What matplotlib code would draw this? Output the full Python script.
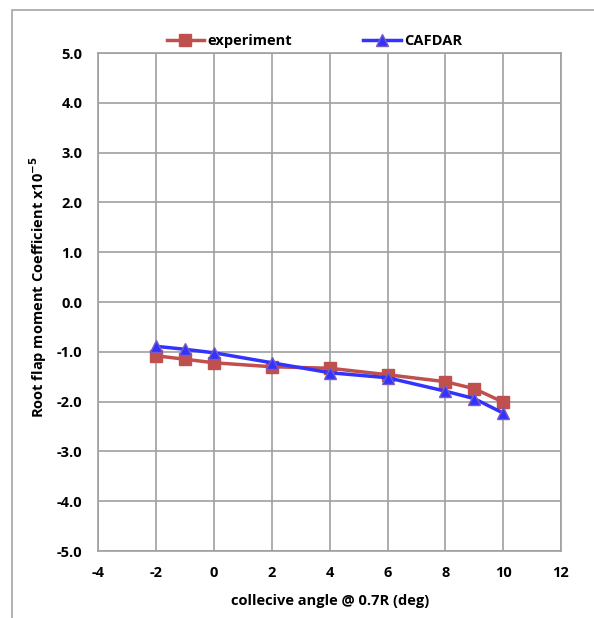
import matplotlib
matplotlib.use("Agg")
import matplotlib.pyplot as plt
from matplotlib.patches import Rectangle

angle = [-2, -1, 0, 2, 4, 6, 8, 9, 10]
experiment = [-1.08, -1.15, -1.22, -1.30, -1.33, -1.46, -1.60, -1.74, -2.01]
cafdar = [-0.89, -0.95, -1.02, -1.22, -1.42, -1.52, -1.79, -1.94, -2.23]

xticks = [-4, -2, 0, 2, 4, 6, 8, 10, 12]
yticks = [-5, -4, -3, -2, -1, 0, 1, 2, 3, 4, 5]

plt.rcParams['font.family'] = ['Open Sans', 'DejaVu Sans']
plt.rcParams['font.weight'] = 'bold'
plt.rcParams['axes.unicode_minus'] = False
plt.rcParams['mathtext.default'] = 'bf'

fig = plt.figure(figsize=(5.94, 6.18), dpi=100)
ax = fig.add_axes([0.1658, 0.1084, 0.7786, 0.8058])

# outer chart frame
fig.patches.append(Rectangle((12 / 594, -0.05), 1.2, 1 - 10 / 618 + 0.05,
                             transform=fig.transFigure, fill=False,
                             edgecolor='#a6a6a6', linewidth=1.2))

ax.plot(angle, experiment, color='#C0504D', linewidth=2.5, marker='s',
        markersize=8, markerfacecolor='#C0504D', markeredgecolor='#C0504D',
        label='experiment', zorder=3)
ax.plot(angle, cafdar, color='#3333FF', linewidth=2.5, marker='^',
        markersize=8, markerfacecolor='#3333FF', markeredgecolor='#7a5cc0',
        label='CAFDAR', zorder=4)

ax.set_xlim(-4, 12)
ax.set_ylim(-5, 5)
ax.set_xticks(xticks)
ax.set_yticks(yticks)
ax.set_yticklabels([f"{v:.1f}" for v in yticks])
ax.grid(True, color='#a0a0a0', linewidth=1.2)
ax.tick_params(axis='x', length=0, labelsize=10.5, pad=11)
ax.tick_params(axis='y', length=0, labelsize=10.5, pad=11.5)
for s in ax.spines.values():
    s.set_color('#a0a0a0')
    s.set_linewidth(1.2)

ax.set_xlabel('collecive angle @ 0.7R (deg)', fontsize=10.5, fontweight='bold', labelpad=10)
ax.set_ylabel('Root flap moment Coefficient x10$^{-5}$', fontsize=10.5,
              fontweight='bold', labelpad=4)
ax.yaxis.set_label_coords(-0.107, 0.53)

ax.legend(loc='lower center', bbox_to_anchor=(0.467, 0.995), ncol=2,
          frameon=False, fontsize=10.5, handlelength=2.6, handletextpad=0.2,
          columnspacing=4.9, borderaxespad=0.1)

plt.savefig("out.png", dpi=100)
